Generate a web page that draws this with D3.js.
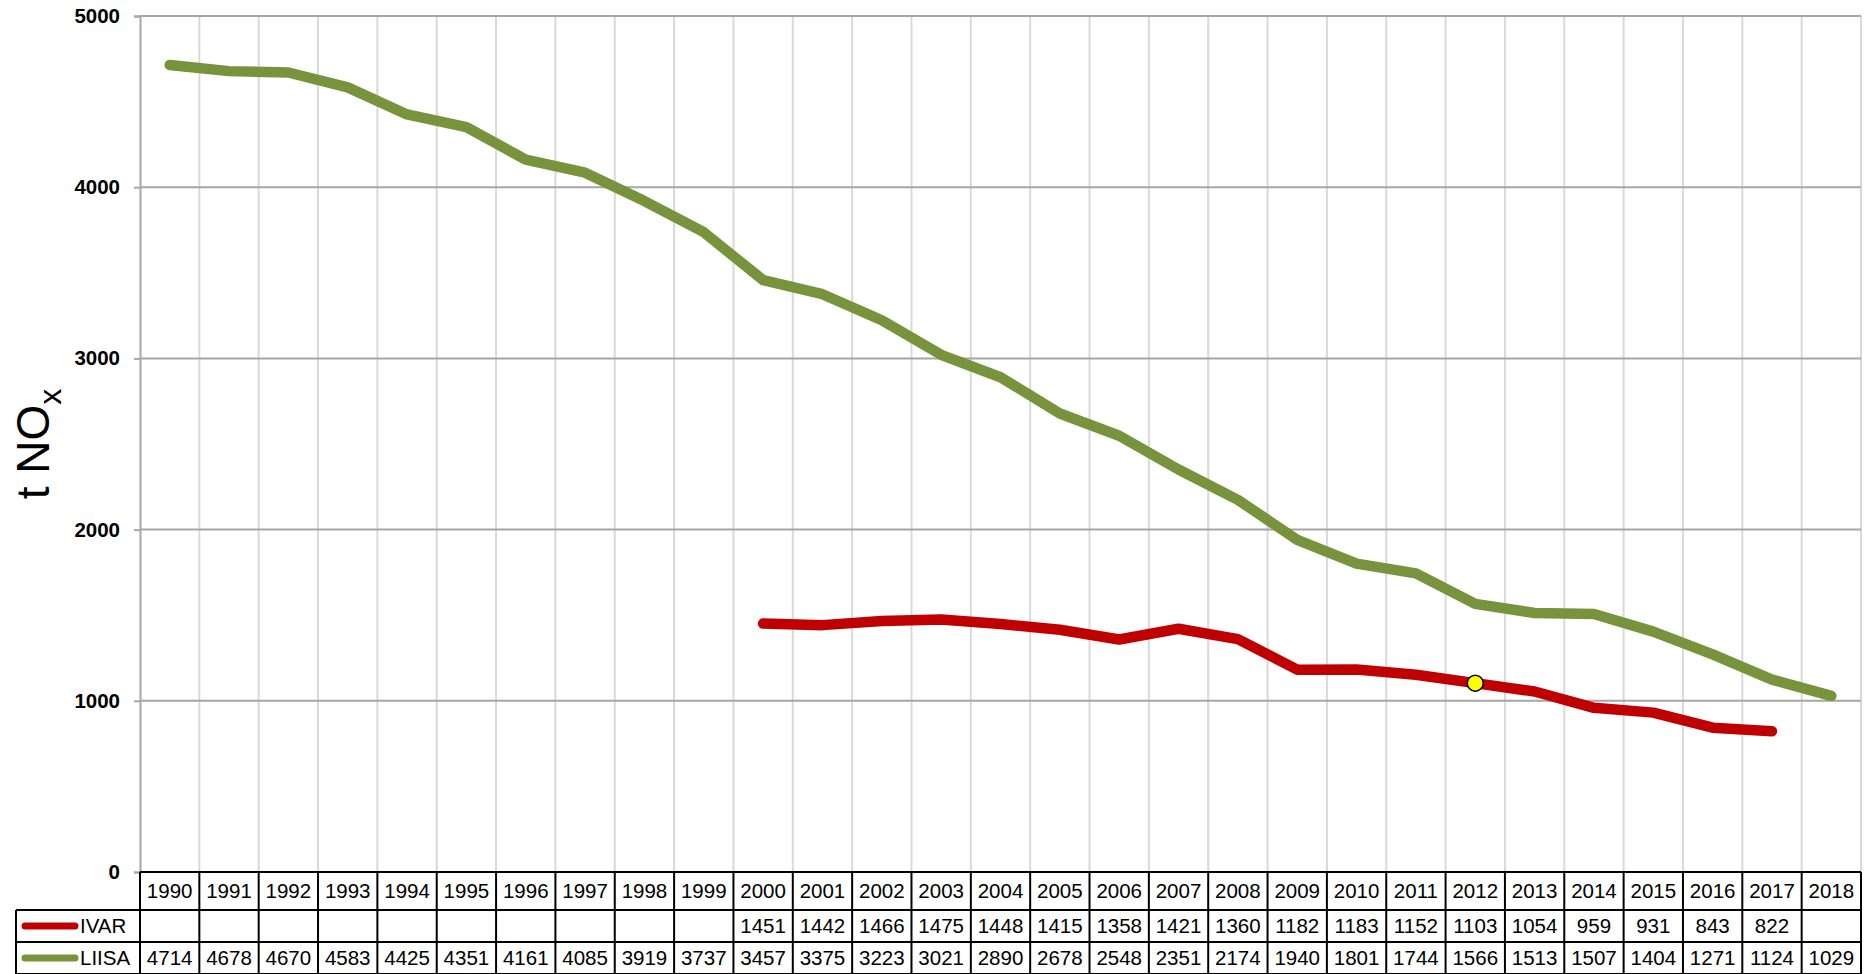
<!DOCTYPE html>
<html>
<head>
<meta charset="utf-8">
<script src="https://cdn.jsdelivr.net/npm/d3@7"></script>
<style>
  html, body { margin: 0; padding: 0; background: #fff; }
  svg { display: block; font-family: "Liberation Sans", Arial, sans-serif; }
</style>
</head>
<body>
<svg id="chart" width="1864" height="974"></svg>
<script>
const years = ["1990","1991","1992","1993","1994","1995","1996","1997","1998","1999","2000","2001","2002","2003","2004","2005","2006","2007","2008","2009","2010","2011","2012","2013","2014","2015","2016","2017","2018"];
const ivar = [null,null,null,null,null,null,null,null,null,null,1451,1442,1466,1475,1448,1415,1358,1421,1360,1182,1183,1152,1103,1054,959,931,843,822,null];
const liisa = [4714,4678,4670,4583,4425,4351,4161,4085,3919,3737,3457,3375,3223,3021,2890,2678,2548,2351,2174,1940,1801,1744,1566,1513,1507,1404,1271,1124,1029];
const yTicks = [0,1000,2000,3000,4000,5000];
const highlightYear = "2012";

const series = [
  { name: "IVAR", values: ivar, color: "#C00000" },
  { name: "LIISA", values: liisa, color: "#77933C" }
];

const svg = d3.select("#chart");
const plotL = 140, plotR = 1861, plotT = 16, plotB = 872;
const legendLeft = 16;
const rowH = [38, 32, 32];

const x = d3.scaleBand().domain(years).range([plotL, plotR]).padding(0);
const y = d3.scaleLinear().domain([0, 5000]).range([plotB, plotT]);

// vertical gridlines
svg.append("g").selectAll("line").data(years.slice(1).concat(["__end"]))
  .join("line")
  .attr("x1", d => d === "__end" ? plotR : x(d))
  .attr("x2", d => d === "__end" ? plotR : x(d))
  .attr("y1", plotT).attr("y2", plotB)
  .attr("stroke", "#d9d9d9").attr("stroke-width", 2);

// horizontal gridlines
svg.append("g").selectAll("line").data(yTicks.filter(t => t > 0))
  .join("line")
  .attr("x1", plotL).attr("x2", plotR)
  .attr("y1", d => y(d)).attr("y2", d => y(d))
  .attr("stroke", "#a6a6a6").attr("stroke-width", 2);

// y axis
const yAxis = d3.axisLeft(y).tickValues(yTicks).tickSize(6).tickPadding(14).tickFormat(d3.format("d"));
const ya = svg.append("g").attr("transform", `translate(${plotL},0)`).call(yAxis);
ya.select(".domain").attr("stroke", "#a6a6a6").attr("stroke-width", 2);
ya.selectAll(".tick line").attr("stroke", "#a6a6a6").attr("stroke-width", 2);
ya.selectAll(".tick text")
  .attr("font-family", "Liberation Sans, Arial, sans-serif")
  .attr("font-size", 20.5).attr("font-weight", "bold").attr("fill", "#000");

// y label
const yl = svg.append("text")
  .attr("transform", "translate(49,444) rotate(-90)")
  .attr("text-anchor", "middle")
  .attr("font-size", 46).attr("fill", "#000");
yl.append("tspan").text("t NO");
yl.append("tspan").attr("font-size", 32).attr("dy", 12).text("x");

// lines
const line = d3.line()
  .defined(d => d.v !== null)
  .x(d => x(d.year) + x.bandwidth() / 2)
  .y(d => y(d.v));

series.forEach(s => {
  svg.append("path")
    .datum(years.map((yr, i) => ({ year: yr, v: s.values[i] })))
    .attr("d", line)
    .attr("fill", "none")
    .attr("stroke", s.color)
    .attr("stroke-width", 10.5)
    .attr("stroke-linejoin", "round")
    .attr("stroke-linecap", "round");
});

// highlight marker
const hi = years.indexOf(highlightYear);
svg.append("circle")
  .attr("cx", x(highlightYear) + x.bandwidth() / 2)
  .attr("cy", y(ivar[hi]))
  .attr("r", 8)
  .attr("fill", "#ffff00")
  .attr("stroke", "#000")
  .attr("stroke-width", 1.5);

// data table
const t = svg.append("g");
const rowTop = [plotB, plotB + rowH[0], plotB + rowH[0] + rowH[1]];
const rowBottom = [rowTop[1], rowTop[2], rowTop[2] + rowH[2]];

t.selectAll("text.hdr").data(years).join("text")
  .attr("x", d => x(d) + x.bandwidth() / 2)
  .attr("y", (rowTop[0] + rowBottom[0]) / 2 + 7)
  .attr("text-anchor", "middle").attr("font-size", 20.5).attr("fill", "#000")
  .text(d => d);

series.forEach((s, si) => {
  const r = si + 1;
  const cy = (rowTop[r] + rowBottom[r]) / 2;
  t.append("g").selectAll("text").data(years.map((yr, i) => ({ yr, v: s.values[i] })).filter(d => d.v !== null))
    .join("text")
    .attr("x", d => x(d.yr) + x.bandwidth() / 2)
    .attr("y", cy + 7)
    .attr("text-anchor", "middle").attr("font-size", 20.5).attr("fill", "#000")
    .text(d => d.v);
  t.append("line")
    .attr("x1", 25).attr("x2", 75).attr("y1", cy).attr("y2", cy)
    .attr("stroke", s.color).attr("stroke-width", 7).attr("stroke-linecap", "round");
  t.append("text")
    .attr("x", 80).attr("y", cy + 7)
    .attr("font-size", 20.5).attr("fill", "#000")
    .text(s.name);
});

const bw = 2;
t.append("line").attr("x1", plotL).attr("x2", plotR).attr("y1", rowTop[0]).attr("y2", rowTop[0]).attr("stroke", "#000").attr("stroke-width", bw);
[rowTop[1], rowTop[2], rowBottom[2]].forEach(yy => t.append("line").attr("x1", legendLeft).attr("x2", plotR).attr("y1", yy).attr("y2", yy).attr("stroke", "#000").attr("stroke-width", bw));
t.append("g").selectAll("line").data(years.concat(["__end"])).join("line")
  .attr("x1", d => d === "__end" ? plotR : x(d))
  .attr("x2", d => d === "__end" ? plotR : x(d))
  .attr("y1", rowTop[0]).attr("y2", rowBottom[2])
  .attr("stroke", "#000").attr("stroke-width", bw);
t.append("line").attr("x1", legendLeft).attr("x2", legendLeft)
  .attr("y1", rowTop[1]).attr("y2", rowBottom[2])
  .attr("stroke", "#000").attr("stroke-width", bw);
</script>
</body>
</html>
